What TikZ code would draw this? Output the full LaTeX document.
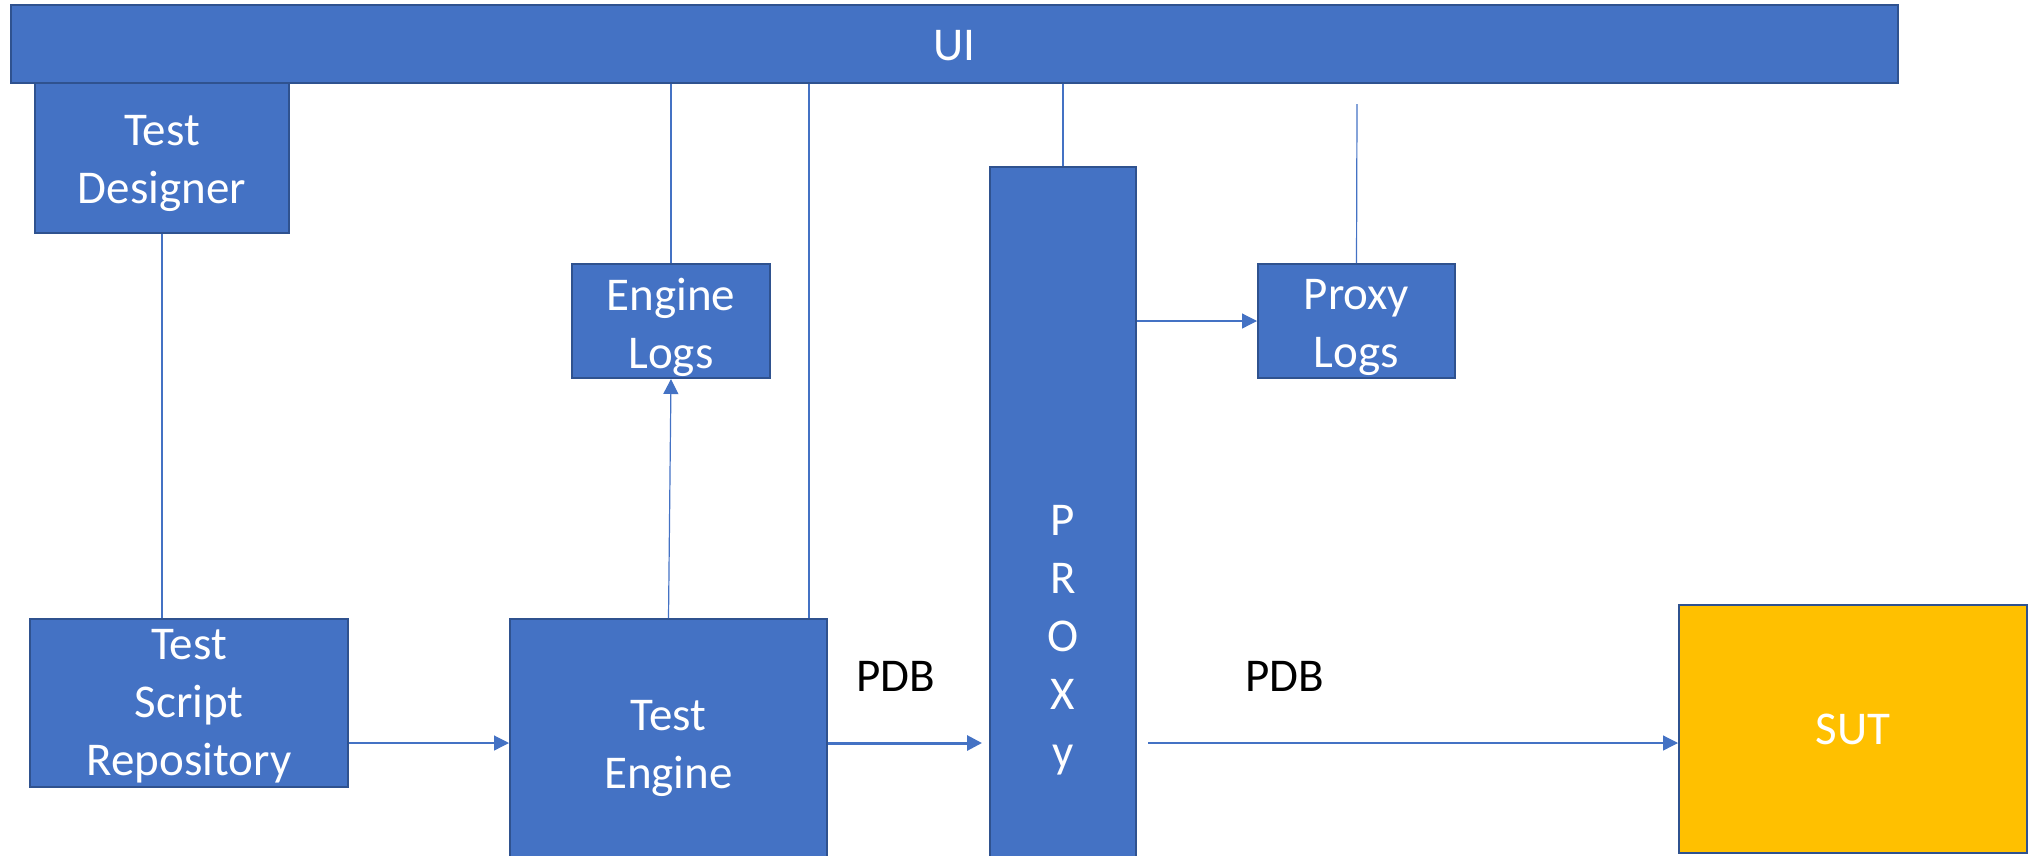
\documentclass[tikz,border=0pt]{standalone}
\usepackage{fontspec}
\setmainfont{Carlito}
\usetikzlibrary{arrows.meta}
\definecolor{boxblue}{HTML}{4472C4}
\definecolor{boxedge}{HTML}{2F528F}
\definecolor{sutfill}{HTML}{FFC000}
\tikzset{
  blk/.style={draw=boxedge, fill=boxblue, line width=2pt, inner sep=0pt},
  txt/.style={text=white, align=center, inner sep=0pt, font=\fontsize{47}{58}\selectfont},
  conn/.style={draw=boxblue, line width=1.2pt},
  arr/.style={conn, -{Triangle[length=15pt,width=15pt]}},
  lbl/.style={text=black, font=\fontsize{47}{58}\selectfont, inner sep=0pt}
}
\begin{document}
\begin{tikzpicture}[x=1pt,y=-1pt]
\useasboundingbox (0,0) rectangle (2033,855);
\clip (0,0) rectangle (2033,855);
% boxes
\node[blk, minimum width=1887, minimum height=78,
  label={[txt,yshift=-2pt]center:UI}] (UI) at (954.5,44) {};
\node[blk, minimum width=254, minimum height=150,
  label={[txt,yshift=-5pt]center:{Test\\Designer}}] (TD) at (162,158) {};
\node[blk, minimum width=198, minimum height=114,
  label={[txt,yshift=-6pt]center:{Engine\\Logs}}] (EL) at (671,321) {};
\node[blk, minimum width=197, minimum height=114,
  label={[txt,yshift=-6pt]center:{Proxy\\Logs}}] (PL) at (1356.5,321) {};
\node[blk, minimum width=146, minimum height=940,
  label={[txt,yshift=-3pt]center:{P\\R\\O\\X\\y}}] (PX) at (1063,637) {};
\node[blk, minimum width=318, minimum height=168,
  label={[txt,yshift=-3.5pt]center:{Test\\Script\\Repository}}] (TSR) at (189,703) {};
\node[blk, minimum width=317, minimum height=254,
  label={[txt,yshift=-2pt]center:{Test\\Engine}}] (TE) at (668.5,746) {};
\node[blk, fill=sutfill, minimum width=348, minimum height=248,
  label={[txt]center:SUT}] (SUT) at (1853,729) {};
% labels
\node[lbl] (pdb1) at (896,676) {PDB};
\node[lbl] (pdb2) at (1285,676) {PDB};
% connectors
\draw[conn] (TD.south) -- (TD.south |- TSR.north);
\draw[conn] (EL.north) -- (EL.north |- UI.south);
\draw[conn] ([xshift=-19pt]TE.north east) -- ([xshift=-19pt]TE.north east |- UI.south);
\draw[arr] (TE.north) -- (EL.south);
\draw[conn] (PX.north) -- (PX.north |- UI.south);
\draw[arr] (PX.east |- PL.west) -- (PL.west);
\coordinate (plTop) at (1357,104);
\draw[conn] (PL.north) -- (plTop);
\coordinate (flow) at ([yshift=-40pt]TSR.east);
\draw[arr] (flow) -- (TE.west |- flow);
\draw[arr, line width=3pt, shorten >=7pt] (TE.east |- flow) -- (PX.west |- flow);
\draw[arr] ([xshift=11pt]PX.east |- flow) -- (SUT.west |- flow);
\end{tikzpicture}
\end{document}
